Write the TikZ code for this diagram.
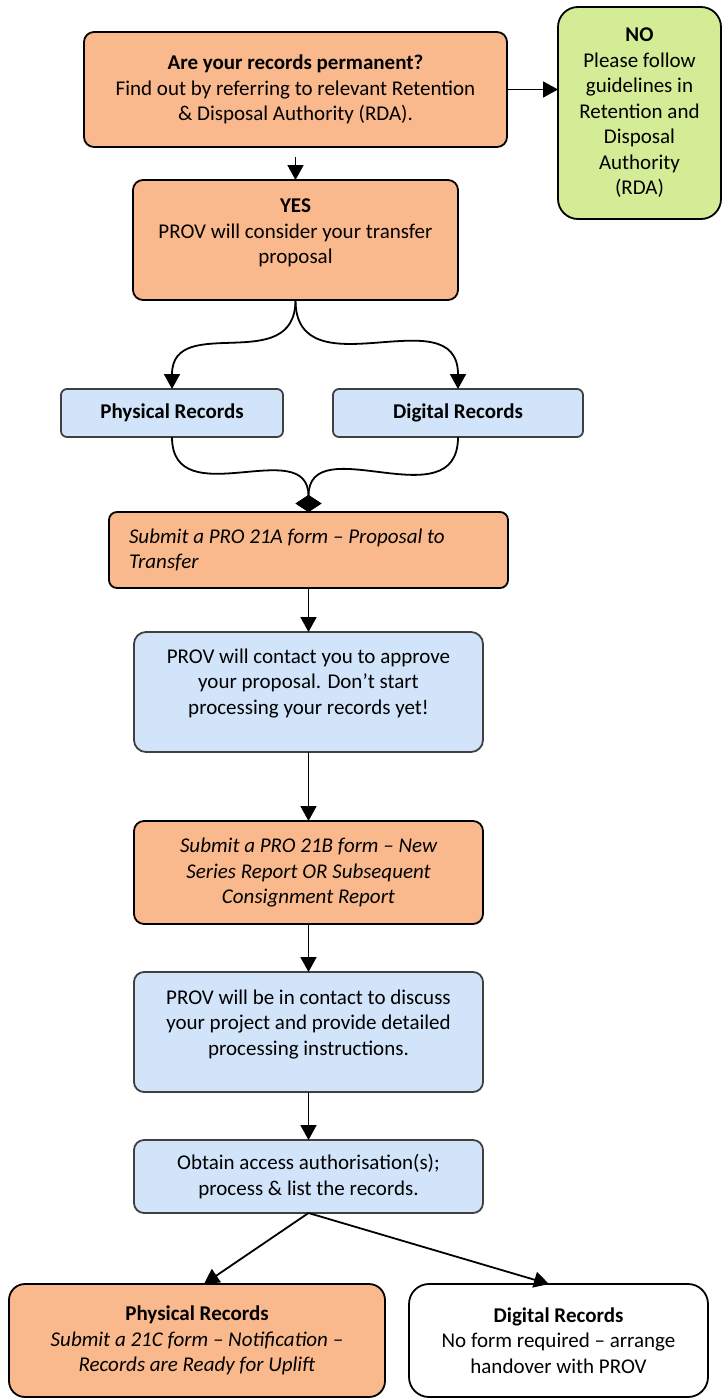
\documentclass[tikz,border=0pt]{standalone}
\usepackage{fontspec}
\setmainfont{Carlito}
\usetikzlibrary{arrows.meta,positioning}
\definecolor{LightOrange}{RGB}{249,185,140}
\definecolor{LightBlue}{RGB}{210,228,250}
\definecolor{LightGreen}{RGB}{212,236,150}
\definecolor{BlueEdge}{RGB}{64,64,64}
\newcommand\boxfont{\fontsize{21}{25.5}\selectfont}

\begin{document}
\begin{tikzpicture}[x=1pt,y=1pt,
  flowbox/.style={draw,line width=1.8pt,rounded corners=10pt,align=center,inner sep=0pt,outer sep=0pt,font=\boxfont},
  orangebox/.style={flowbox,fill=LightOrange},
  bluebox/.style={flowbox,fill=LightBlue,draw=BlueEdge},
  arr/.style={-{Triangle[length=15pt,width=16pt]},line width=1.8pt},
  merge/.style={-{Diamond[length=17pt,width=26pt]},line width=1.8pt}]
\useasboundingbox (0,0) rectangle (726,-1400);
\node[orangebox,minimum width=423pt,minimum height=115pt] (perm) at (295.5,-89.5) {\textbf{Are your records permanent?}\\Find out by referring to relevant Retention\\\& Disposal Authority (RDA).};
\node[flowbox,fill=LightGreen,rounded corners=20pt,minimum width=163pt,minimum height=212pt,right=51pt of perm,yshift=-23.5pt] (no) {\textbf{NO}\\Please follow\\guidelines in\\Retention and\\Disposal\\Authority\\(RDA)};
\node[orangebox,minimum width=325pt,minimum height=120pt,text depth=17pt,below=33pt of perm] (yes) {\textbf{YES}\\PROV will consider your transfer\\proposal};
\node[bluebox,rounded corners=6pt,minimum width=222pt,minimum height=48pt,below=89pt of yes,xshift=-123.5pt] (phys) {\textbf{Physical Records}};
\node[bluebox,rounded corners=6pt,minimum width=250pt,minimum height=48pt,right=50pt of phys] (dig) {\textbf{Digital Records}};
\node[orangebox,rounded corners=8pt,font=\boxfont\itshape,text width=359pt,align=flush left,inner xsep=20pt,minimum height=76pt,below=75pt of phys,xshift=136.5pt] (f21a) {Submit a PRO 21A form – Proposal to\\Transfer};
\node[bluebox,rounded corners=12pt,minimum width=349pt,minimum height=120pt,text depth=21pt,below=44pt of f21a] (appr) {PROV will contact you to approve\\your proposal. Don’t start\\processing your records yet!};
\node[orangebox,font=\boxfont\itshape,minimum width=349pt,minimum height=103pt,below=69pt of appr] (f21b) {Submit a PRO 21B form – New\\Series Report OR Subsequent\\Consignment Report};
\node[bluebox,minimum width=349pt,minimum height=120pt,text depth=19pt,below=48pt of f21b] (disc) {PROV will be in contact to discuss\\your project and provide detailed\\processing instructions.};
\node[bluebox,minimum width=349pt,minimum height=73pt,below=48pt of disc] (obt) {Obtain access authorisation(s);\\process \& list the records.};
\node[orangebox,rounded corners=16pt,minimum width=376pt,minimum height=113pt,below=71pt of obt,xshift=-111.5pt] (physf) {\textbf{Physical Records}\\\textit{Submit a 21C form – Notification –}\\\textit{Records are Ready for Uplift}};
\node[flowbox,fill=white,rounded corners=20pt,minimum width=299pt,minimum height=113pt,right=24pt of physf] (digf) {\textbf{Digital Records}\\No form required – arrange\\handover with PROV};
\draw[arr] (perm.east) -- (no.west |- perm.east);
\draw[arr,shorten <=10pt] (perm.south) -- (yes.north);
\draw[arr] (yes.south) to[out=-90,in=90,looseness=1.3] (phys.north);
\draw[arr] (yes.south) to[out=-90,in=90,looseness=1.3] (dig.north);
\draw[merge] (phys.south) to[out=-90,in=90,looseness=1.3] (f21a.north);
\draw[merge] (dig.south) to[out=-90,in=90,looseness=1.3] (f21a.north);
\draw[arr] (f21a.south) -- (appr.north);
\draw[arr] (appr.south) -- (f21b.north);
\draw[arr] (f21b.south) -- (disc.north);
\draw[arr] (disc.south) -- (obt.north);
\draw[arr] (obt.south) -- ([xshift=7pt]physf.north);
\draw[arr] (obt.south) -- ([xshift=-9.5pt]digf.north);
\end{tikzpicture}
\end{document}
